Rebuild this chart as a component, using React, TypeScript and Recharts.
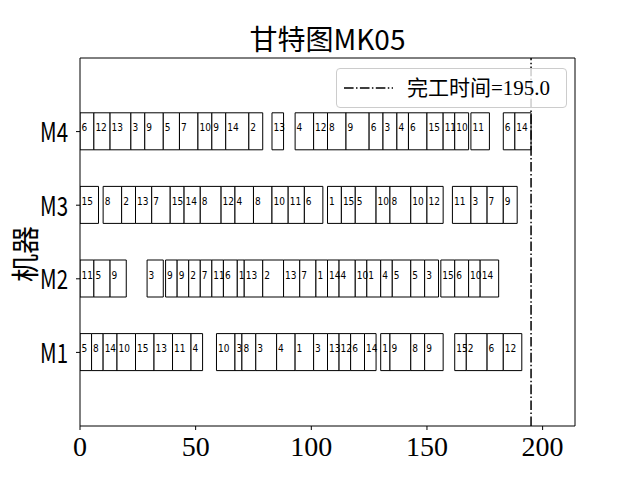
import {
  BarChart,
  Bar,
  XAxis,
  YAxis,
  Cell,
  LabelList,
  ReferenceLine,
  Legend,
  Label,
} from "recharts";

// machine rows, top to bottom
const MACHINES = ["M4", "M3", "M2", "M1"];

// [job, start, end]
const M4_TASKS: [number, number, number][] = [
  [6, 0, 6], [12, 6, 13], [13, 13, 22], [3, 22, 28], [9, 28, 36], [5, 36, 43],
  [7, 43, 51], [10, 51, 57], [9, 57, 63], [14, 63, 73], [2, 73, 79], [13, 83, 88],
  [4, 93, 101], [12, 101, 107], [8, 107, 115], [9, 115, 125], [6, 125, 131],
  [3, 131, 137], [4, 137, 142], [6, 142, 150], [15, 150, 157], [11, 157, 162],
  [10, 162, 168], [11, 169, 177], [6, 183, 188], [14, 188, 195],
];
const M3_TASKS: [number, number, number][] = [
  [15, 0, 8], [8, 10, 18], [2, 18, 24], [13, 24, 31], [7, 31, 39], [15, 39, 45],
  [14, 45, 52], [8, 52, 61], [12, 61, 67], [4, 67, 75], [8, 75, 83], [10, 83, 90],
  [11, 90, 97], [6, 97, 105], [1, 107, 113], [15, 113, 119], [5, 119, 128],
  [10, 128, 134], [8, 134, 143], [10, 143, 150], [12, 150, 157], [11, 161, 169],
  [3, 169, 176], [7, 176, 183], [9, 183, 189],
];
const M2_TASKS: [number, number, number][] = [
  [11, 0, 6], [5, 6, 13], [9, 13, 20], [3, 29, 36], [9, 37, 42], [9, 42, 47],
  [2, 47, 52], [7, 52, 57], [11, 57, 62], [6, 62, 68], [1, 68, 71], [13, 71, 79],
  [2, 79, 88], [13, 88, 95], [7, 95, 102], [1, 102, 107], [14, 107, 112],
  [4, 112, 119], [10, 119, 124], [1, 124, 130], [4, 130, 135], [5, 135, 143],
  [5, 143, 149], [3, 149, 155], [15, 156, 162], [6, 162, 168], [10, 168, 173],
  [14, 173, 181],
];
const M1_TASKS: [number, number, number][] = [
  [5, 0, 5], [8, 5, 10], [14, 10, 16], [10, 16, 24], [15, 24, 32], [13, 32, 40],
  [11, 40, 48], [4, 48, 53], [10, 59, 67], [3, 67, 70], [8, 70, 76], [3, 76, 85],
  [4, 85, 93], [1, 93, 101], [3, 101, 107], [13, 107, 112], [12, 112, 117],
  [6, 117, 123], [14, 123, 128], [1, 130, 134], [9, 134, 143], [8, 143, 149],
  [9, 149, 157], [15, 162, 167], [2, 167, 176], [6, 176, 183], [12, 183, 191],
];

const X_TICKS = [0, 50, 100, 150, 200];
const X_MAX = 214;
const MAKESPAN = 195;

const TASKS: Record<string, [number, number, number][]> = {
  M4: M4_TASKS,
  M3: M3_TASKS,
  M2: M2_TASKS,
  M1: M1_TASKS,
};

// turn each machine's task list into stacked segments (idle gaps get job = null)
const rows = MACHINES.map((name) => {
  const row: Record<string, any> = { name };
  let t = 0;
  let i = 0;
  for (const [job, s, e] of TASKS[name]) {
    if (s > t) {
      row[`v${i}`] = s - t;
      row[`j${i}`] = null;
      i++;
    }
    row[`v${i}`] = e - s;
    row[`j${i}`] = job;
    i++;
    t = e;
  }
  row.count = i;
  return row;
});
const SEG_COUNT = Math.max(...rows.map((r) => r.count));

const CJK = "'Noto Sans CJK SC', sans-serif";
const NARROW = "'Liberation Sans Narrow', 'DejaVu Sans Condensed', sans-serif";
const SERIF = "'Liberation Serif', serif";
const DASH_DOT = "9.6 2.4 1.5 2.4";

const renderTaskLabel = (props: any) => {
  const { value } = props;
  if (value == null) return null;
  const vb = props.viewBox ?? props;
  const x = Number(vb.x ?? props.x);
  const y = Number(vb.y ?? props.y);
  const h = Number(vb.height ?? props.height);
  return (
    <text x={x + 1.5} y={y + h / 2} fontSize={10} fontFamily={NARROW} fill="#000">
      {value}
    </text>
  );
};

// machine names are squeezed to the half-width look of the original
const renderMachineTick = (props: any) => {
  const { x, y, payload } = props;
  return (
    <text
      x={x}
      y={y - 1}
      textAnchor="end"
      dominantBaseline="central"
      fontSize={27}
      fontFamily={CJK}
      fill="#000"
      textLength={28}
      lengthAdjust="spacingAndGlyphs"
    >
      {payload.value}
    </text>
  );
};

const renderLegend = () => (
  <div
    style={{
      position: "relative",
      width: 231,
      height: 40,
      boxSizing: "border-box",
      border: "1px solid #cccccc",
      borderRadius: 4,
      background: "rgba(255,255,255,0.8)",
    }}
  >
    <svg width={60} height={40} style={{ position: "absolute", left: 0, top: -1 }}>
      <line x1={7} x2={56} y1={20} y2={20} stroke="#000" strokeWidth={1.5} strokeDasharray={DASH_DOT} />
    </svg>
    <span
      style={{
        position: "absolute",
        left: 70,
        top: 0,
        lineHeight: "38px",
        fontSize: 21,
        fontFamily: `'Liberation Serif', ${CJK}`,
        color: "#000",
        whiteSpace: "nowrap",
      }}
    >
      完工时间=195.0
    </span>
  </div>
);

export default function App() {
  return (
    <div style={{ position: "absolute", left: 0, top: 0, width: 640, height: 480, background: "#fff" }}>
      <BarChart
        width={640}
        height={480}
        layout="vertical"
        data={rows}
        margin={{ top: 57, right: 64, bottom: 0, left: 0 }}
      >
        <XAxis
          type="number"
          domain={[0, X_MAX]}
          ticks={X_TICKS}
          allowDataOverflow
          height={54}
          tickSize={4}
          tickMargin={6}
          axisLine={{ stroke: "#000" }}
          tickLine={{ stroke: "#000" }}
          tick={{ fontSize: 28, fontFamily: SERIF, fill: "#000" }}
        />
        <XAxis
          xAxisId="top"
          orientation="top"
          type="number"
          domain={[0, X_MAX]}
          height={1}
          tick={false}
          tickLine={false}
          axisLine={{ stroke: "#000" }}
        >
          <Label value="甘特图MK05" position="top" offset={7} fontSize={28} fontFamily={CJK} fill="#000" />
        </XAxis>
        <YAxis
          type="category"
          dataKey="name"
          width={80}
          padding={{ top: 36.8, bottom: 36.8 }}
          tickSize={4}
          tickMargin={8}
          axisLine={{ stroke: "#000" }}
          tickLine={{ stroke: "#000" }}
          tick={renderMachineTick}
        >
          <Label
            content={(p: any) => {
              const vb = p.viewBox || { x: 0, y: 58, height: 368 };
              const cx = vb.x + 24;
              const cy = vb.y + vb.height / 2 + 12;
              return (
                <text
                  x={cx}
                  y={cy}
                  transform={`rotate(-90 ${cx} ${cy})`}
                  textAnchor="middle"
                  dominantBaseline="central"
                  fontSize={28}
                  fontFamily={CJK}
                  fill="#000"
                >
                  机器
                </text>
              );
            }}
          />
        </YAxis>
        <YAxis
          yAxisId="frame"
          orientation="right"
          type="number"
          domain={[0, 1]}
          width={1}
          tick={false}
          tickLine={false}
          axisLine={{ stroke: "#000" }}
        />
        {Array.from({ length: SEG_COUNT }).map((_, i) => (
          <Bar
            key={i}
            dataKey={`v${i}`}
            stackId="m"
            barSize={37}
            isAnimationActive={false}
          >
            {rows.map((r, k) => {
              const busy = r[`j${i}`] != null;
              return (
                <Cell
                  key={k}
                  fill={busy ? "#ffffff" : "none"}
                  stroke={busy ? "#000000" : "none"}
                  strokeWidth={1}
                />
              );
            })}
            <LabelList dataKey={`j${i}`} content={renderTaskLabel} />
          </Bar>
        ))}
        <ReferenceLine
          x={MAKESPAN}
          yAxisId="frame"
          stroke="#000"
          strokeWidth={1.5}
          strokeDasharray={DASH_DOT}
        />
        <Legend
          layout="vertical"
          align="center"
          verticalAlign="middle"
          wrapperStyle={{ left: 336, top: 68, width: 231, height: 40 }}
          content={renderLegend}
        />
      </BarChart>
    </div>
  );
}
